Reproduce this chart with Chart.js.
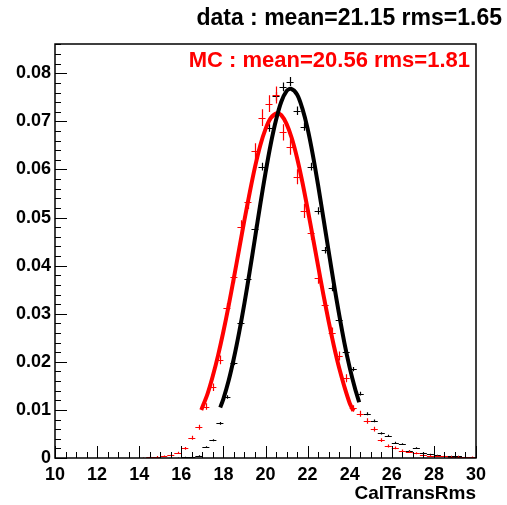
<!DOCTYPE html>
<html lang="en">
<head>
<meta charset="UTF-8"/>
<title>CalTransRms</title>
<script src="https://cdn.jsdelivr.net/npm/chart.js@4.4.0/dist/chart.umd.min.js"></script>
<style>
  body { margin: 0; background: #fff; }
</style>
</head>
<body>
<canvas id="chart" width="507" height="505"></canvas>
<script>
// histogram binning: 60 bins from 10 to 30
const histMin = 10, histMax = 30, nBins = 60;

// data (black), one value per bin
const dataValues = [
  0, 0, 0, 0, 0, 0, 0, 0, 0, 0,
  0, 0, 0, 0, 0, 0, 0, 0.0001, 0.0002, 0.0003,
  0.0005, 0.0023, 0.0037, 0.0072, 0.0127, 0.0198, 0.0280, 0.0372, 0.0477, 0.0606,
  0.0687, 0.0752, 0.0772, 0.0783, 0.0722, 0.0689, 0.0606, 0.0514, 0.0432, 0.0353,
  0.0288, 0.0221, 0.0185, 0.0134, 0.0092, 0.0077, 0.0051, 0.0046, 0.0032, 0.0029,
  0.0015, 0.0021, 0.0011, 0.0008, 0.0006, 0.0004, 0.0004, 0.0004, 0.0002, 0.0001
];

// MC (red), one value per bin
const mcValues = [
  0, 0, 0, 0, 0, 0, 0, 0, 0, 0,
  0, 0, 0.0001, 0.0002, 0.0003, 0.0004, 0.0006, 0.0011, 0.0020, 0.0042,
  0.0064, 0.0107, 0.0147, 0.0204, 0.0311, 0.0376, 0.0480, 0.0533, 0.0638, 0.0708,
  0.0737, 0.0755, 0.0677, 0.0647, 0.0585, 0.0514, 0.0468, 0.0375, 0.0318, 0.0261,
  0.0212, 0.0166, 0.0103, 0.0092, 0.0077, 0.0060, 0.0037, 0.0025, 0.0021, 0.0015,
  0.0013, 0.0010, 0.0007, 0.0005, 0.0004, 0.0004, 0.0003, 0.0003, 0.0002, 0.0002
];

// fitted curves
const dataFitX = [17.85, 18, 18.25, 18.5, 18.75, 19, 19.25, 19.5, 19.75, 20, 20.25, 20.5, 20.75, 21, 21.2,
  21.5, 21.75, 22, 22.25, 22.5, 22.75, 23, 23.25, 23.5, 23.75, 24, 24.25, 24.45];
const dataFitY = [0.0105, 0.0123, 0.0161, 0.0208, 0.0262, 0.0322, 0.0388, 0.0457, 0.0527, 0.0593, 0.0653, 0.0703, 0.0741, 0.0763, 0.0768,
  0.0756, 0.0727, 0.0685, 0.0630, 0.0567, 0.0499, 0.0430, 0.0362, 0.0298, 0.0239, 0.0188, 0.0145, 0.0116];

const mcFitX = [16.95, 17.25, 17.5, 17.75, 18, 18.25, 18.5, 18.75, 19, 19.25, 19.5, 19.75, 20, 20.25, 20.55,
  20.75, 21, 21.25, 21.5, 21.75, 22, 22.25, 22.5, 22.75, 23, 23.25, 23.5, 23.75, 24, 24.18];
const mcFitY = [0.0100, 0.0134, 0.0171, 0.0214, 0.0263, 0.0317, 0.0375, 0.0435, 0.0495, 0.0552, 0.0605, 0.0650, 0.0684, 0.0707, 0.0717,
  0.0713, 0.0695, 0.0665, 0.0624, 0.0574, 0.0518, 0.0459, 0.0399, 0.0340, 0.0284, 0.0233, 0.0187, 0.0148, 0.0114, 0.0098];

const xTickLabels = [10, 12, 14, 16, 18, 20, 22, 24, 26, 28, 30];
const yTickLabels = [0, 0.01, 0.02, 0.03, 0.04, 0.05, 0.06, 0.07, 0.08];

const titleText = 'data : mean=21.15 rms=1.65';
const mcText = 'MC : mean=20.56 rms=1.81';
const xTitle = 'CalTransRms';

const binWidth = (histMax - histMin) / nBins;
const binCenter = i => histMin + (i + 0.5) * binWidth;

function points(vals) {
  return vals.map((v, i) => ({x: binCenter(i), y: v})).filter(p => p.y > 0);
}
function curve(xs, ys) {
  return xs.map((x, i) => ({x: x, y: ys[i]}));
}
function near(v, list, eps) {
  return list.some(l => Math.abs(v - l) < eps);
}

const boldFont = '"Liberation Sans", Arial, Helvetica, sans-serif';

// error crosses for histogram points (drawn under the fit lines)
const crossPlugin = {
  id: 'crosses',
  beforeDatasetsDraw(chart) {
    const ctx = chart.ctx, xs = chart.scales.x, ys = chart.scales.y, a = chart.chartArea;
    ctx.save();
    ctx.beginPath();
    ctx.rect(a.left, a.top, a.right - a.left, a.bottom - a.top);
    ctx.clip();
    chart.data.datasets.forEach(ds => {
      if (!ds.errScale) return;
      ctx.strokeStyle = ds.borderColor;
      ctx.lineWidth = 1.2;
      ctx.beginPath();
      ds.data.forEach(p => {
        const e = ds.errScale * Math.sqrt(p.y);
        const xc = Math.round(xs.getPixelForValue(p.x)) + 0.5;
        const yc = Math.round(ys.getPixelForValue(p.y)) + 0.5;
        ctx.moveTo(xs.getPixelForValue(p.x - binWidth / 2), yc);
        ctx.lineTo(xs.getPixelForValue(p.x + binWidth / 2), yc);
        ctx.moveTo(xc, ys.getPixelForValue(p.y + e));
        ctx.lineTo(xc, ys.getPixelForValue(Math.max(0, p.y - e)));
      });
      ctx.stroke();
    });
    ctx.restore();
  }
};

// frame, inside ticks and the text labels
const framePlugin = {
  id: 'frame',
  afterDraw(chart) {
    const ctx = chart.ctx, xs = chart.scales.x, ys = chart.scales.y, a = chart.chartArea;
    ctx.save();
    ctx.strokeStyle = '#000';
    ctx.lineWidth = 1;
    ctx.beginPath();
    xs.ticks.forEach(t => {
      const px = Math.round(xs.getPixelForValue(t.value)) + 0.5;
      const len = near(t.value, xTickLabels, 1e-6) ? 12 : 6;
      ctx.moveTo(px, a.bottom);
      ctx.lineTo(px, a.bottom - len);
    });
    ys.ticks.forEach(t => {
      const py = Math.round(ys.getPixelForValue(t.value)) + 0.5;
      const len = near(t.value, yTickLabels, 1e-7) ? 12 : 6;
      ctx.moveTo(a.left, py);
      ctx.lineTo(a.left + len, py);
    });
    ctx.stroke();
    ctx.lineWidth = 1.5;
    ctx.strokeRect(a.left, a.top, a.right - a.left, a.bottom - a.top);

    ctx.textAlign = 'right';
    ctx.textBaseline = 'middle';
    ctx.fillStyle = '#000';
    ctx.font = 'bold 23px ' + boldFont;
    ctx.fillText(titleText, 502, 19);
    ctx.fillStyle = '#ff0000';
    ctx.font = 'bold 22px ' + boldFont;
    ctx.fillText(mcText, 470, 61);
    ctx.restore();
  }
};

new Chart(document.getElementById('chart'), {
  type: 'scatter',
  data: {
    datasets: [
      {
        label: 'data fit', data: curve(dataFitX, dataFitY), showLine: true,
        borderColor: '#000', borderWidth: 4, pointRadius: 0, tension: 0.3, fill: false
      },
      {
        label: 'MC fit', data: curve(mcFitX, mcFitY), showLine: true,
        borderColor: '#ff0000', borderWidth: 4, pointRadius: 0, tension: 0.3, fill: false
      },
      {
        label: 'data', data: points(dataValues), borderColor: '#000', backgroundColor: '#000',
        pointRadius: 0, showLine: false, errScale: 0.0033
      },
      {
        label: 'MC', data: points(mcValues), borderColor: '#ff0000', backgroundColor: '#ff0000',
        pointRadius: 0, showLine: false, errScale: 0.0065
      }
    ]
  },
  options: {
    responsive: false,
    animation: false,
    layout: {padding: {top: 44, right: 31, left: 0, bottom: 0}},
    plugins: {legend: {display: false}, tooltip: {enabled: false}},
    scales: {
      x: {
        type: 'linear', min: histMin, max: histMax,
        grid: {display: false, drawTicks: false},
        border: {display: false},
        ticks: {
          stepSize: 0.5, autoSkip: false, maxRotation: 0, padding: 6,
          color: '#000', font: {family: boldFont, size: 18, weight: 'bold'},
          callback: v => near(v, xTickLabels, 1e-6) ? String(Math.round(v)) : ''
        },
        title: {
          display: true, text: xTitle, align: 'end', color: '#000',
          font: {family: boldFont, size: 19, weight: 'bold'}, padding: {top: 0, bottom: 0}
        },
        afterFit(scale) { scale.height = 47; }
      },
      y: {
        type: 'linear', min: 0, max: 0.0861,
        grid: {display: false, drawTicks: false},
        border: {display: false},
        ticks: {
          stepSize: 0.002, autoSkip: false, padding: 4,
          color: '#000', font: {family: boldFont, size: 18, weight: 'bold'},
          callback: v => near(v, yTickLabels, 1e-7) ? (Math.abs(v) < 1e-9 ? '0' : v.toFixed(2)) : ''
        },
        afterFit(scale) { scale.width = 55; }
      }
    }
  },
  plugins: [crossPlugin, framePlugin]
});
</script>
</body>
</html>
